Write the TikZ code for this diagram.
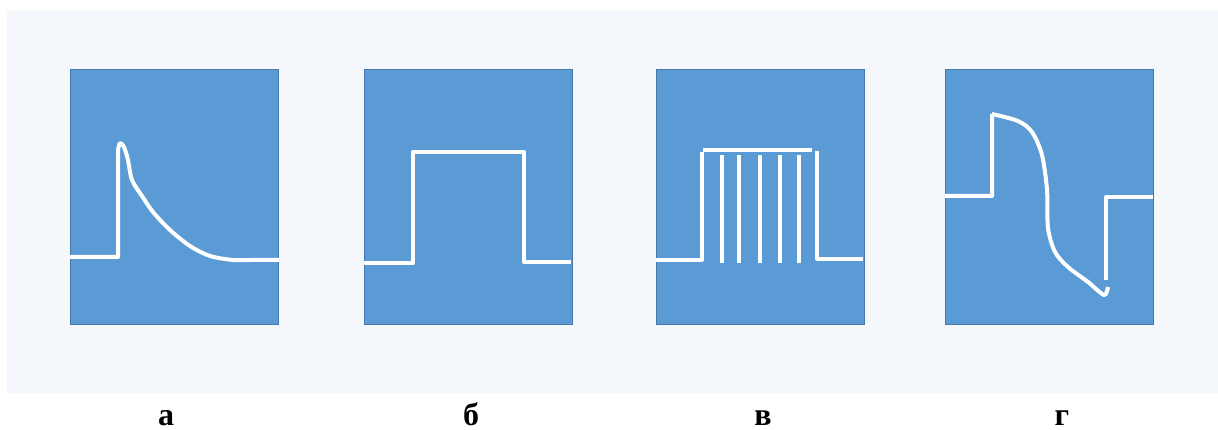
\documentclass[tikz,border=0pt]{standalone}
\usepackage{fontspec}
\setmainfont{Liberation Serif}
\definecolor{panelbg}{RGB}{244,248,252}
\definecolor{scopefill}{RGB}{91,155,213}
\definecolor{scopeedge}{RGB}{70,120,170}
\tikzset{
  scope box/.style={draw=scopeedge, line width=0.8pt, fill=scopefill,
    minimum width=208pt, minimum height=255pt, inner sep=0pt, anchor=north west},
  trace/.style={draw=white, line width=4pt, line join=round, line cap=butt},
  caption/.style={font=\bfseries\fontsize{32}{36}\selectfont, anchor=base, inner sep=0pt}
}
\begin{document}
\begin{tikzpicture}[x=1pt,y=-1pt]
  \useasboundingbox (0,0) rectangle (1218,430);
  \fill[white] (0,0) rectangle (1218,430);
  \fill[panelbg] (7,11) rectangle (1218,393);

  % oscilloscope screens
  \node[scope box] (pa) at (70,69) {};
  \node[scope box] (pb) at (364,69) {};
  \node[scope box] (pc) at (656,69) {};
  \node[scope box] (pd) at (945,69) {};

  % (а) spike with slow decay
  \draw[trace] (70,257) -- (118,257) -- (118,150)
    plot[smooth, tension=0.5] coordinates {(118,150) (120,143) (124,147) (128,160) (132,180)
      (142,196) (153,212) (170,230) (190,246) (210,256) (233,260) (250,260)}
    -- (279,260);

  % (б) rectangular pulse
  \draw[trace] (364,263) -- (413,263) -- (413,152) -- (524,152) -- (524,262) -- (571,262);

  % (в) burst of short pulses
  \draw[trace] (656,260) -- (702,260) -- (702,152);
  \draw[trace] (703,150) -- (812,150);
  \foreach \xx in {722,739,760,780,799}
    \draw[trace] (\xx,155) -- (\xx,263);
  \draw[trace] (817,151) -- (817,259) -- (863,259);

  % (г) biphasic response
  \draw[trace] (945,196) -- (992,196) -- (992,114)
    plot[smooth, tension=0.5] coordinates {(992,114) (1018,121) (1032,132) (1042,155)
      (1047,190) (1048,228) (1055,252) (1068,267) (1088,282) (1104,295) (1108,287)};
  \draw[trace] (1106,280) -- (1106,197) -- (1153,197);

  % captions
  \node[caption] (la) at (166,425) {а};
  \node[caption] (lb) at (471,425) {б};
  \node[caption] (lc) at (763,425) {в};
  \node[caption] (ld) at (1062,425) {г};
\end{tikzpicture}
\end{document}
